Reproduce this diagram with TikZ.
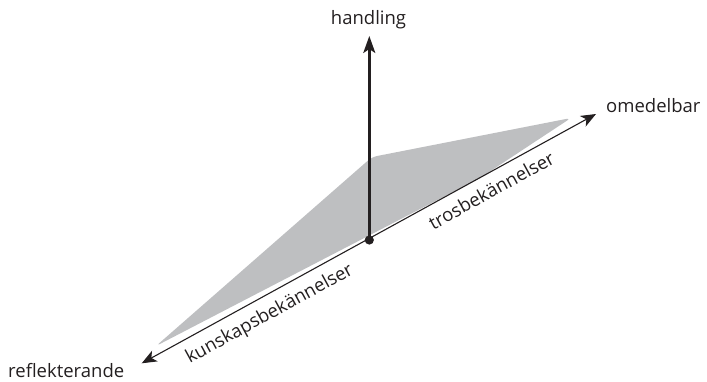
\documentclass[tikz,border=0pt]{standalone}
\usepackage{fontspec}
\setmainfont{Open Sans}
\usetikzlibrary{arrows.meta}
\definecolor{ink}{RGB}{35,31,32}
\definecolor{plane}{RGB}{190,191,193}
\tikzset{
  lbl/.style={text=ink, font=\fontsize{18.5}{22}\selectfont, inner sep=0pt},
  axis/.style={draw=ink, line width=1.1pt, {Stealth[length=15pt,width=12pt,inset=4pt]}-{Stealth[length=15pt,width=12pt,inset=4pt]}},
  vaxis/.style={draw=ink, line width=2.4pt, -{Stealth[length=17pt,width=12pt,inset=4pt]}},
}
\begin{document}
\begin{tikzpicture}[x=1pt,y=-1pt]
\path[use as bounding box] (0,0) rectangle (707,382);
% plane
\fill[plane, rounded corners=5pt] (156,346) -- (370,235) -- (480,178) -- (571,118) -- (372,157) -- cycle;
% coordinates
\coordinate (L) at (141.7,363.3);
\coordinate (R) at (596,114);
\coordinate (O) at (369.3,240);
\coordinate (T) at (369.3,36);
% axes
\draw[axis] (L) -- (R)
  node (k) [lbl, pos=0.262, sloped, below=9pt] {kunskapsbekännelser}
  node (t) [lbl, pos=0.752, sloped, below=9pt] {trosbekännelser};
\draw[vaxis] (O) -- (T);
\fill[ink] (O) circle (4.6pt);
% labels
\node (h) [lbl, anchor=base] at (368.5,25) {handling};
\node (o) [lbl, anchor=base west] at (606,113) {omedelbar};
\node (r) [lbl, anchor=base west] at (8,377.7) {reflekterande};
\end{tikzpicture}
\end{document}
